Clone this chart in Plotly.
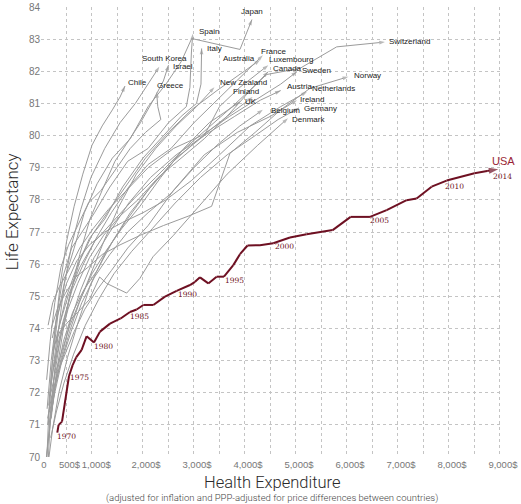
import plotly.graph_objects as go

# ---- data ----
usa_years = list(range(1970, 2015))
usa_spend = [320, 345, 412, 471, 510, 549, 621, 690, 797, 895,
             1039, 1157, 1353, 1562, 1745, 1876, 2007, 2203, 2431, 2660,
             2922, 3020, 3118, 3281, 3444, 3588, 3771, 3902, 4050, 4294,
             4555, 4882, 5209, 5719, 6072, 6451, 6778, 7170, 7366, 7660,
             7955, 8281, 8500, 8750, 8967]
usa_life = [70.76, 71.0, 71.1, 71.77, 72.2, 72.52, 72.86, 73.1, 73.33, 73.76,
            73.56, 73.9, 74.15, 74.31, 74.51, 74.59, 74.73, 74.73, 74.99, 75.17,
            75.35, 75.45, 75.59, 75.4, 75.61, 75.61, 75.97, 76.31, 76.58, 76.59,
            76.65, 76.83, 76.93, 77.06, 77.47, 77.47, 77.68, 77.99, 78.04, 78.41,
            78.6, 78.74, 78.83, 78.9, 78.95]
usa_label_years = [1970, 1975, 1980, 1985, 1990, 1995, 2000, 2005, 2010, 2014]

countries = ["Japan", "Spain", "Italy", "South Korea", "Israel", "Chile", "Greece",
             "Australia", "France", "Luxembourg", "Canada", "Sweden", "Switzerland",
             "Norway", "Austria", "Netherlands", "Ireland", "Germany", "Belgium",
             "Denmark", "New Zealand", "Finland", "UK"]

spend = {
    "Japan": [150, 220, 330, 480, 650, 850, 1100, 1400, 1750, 2100, 2450, 2750, 2955, 3902, 4137],
    "Spain": [120, 200, 300, 430, 600, 800, 1050, 1350, 1700, 2100, 2500, 2850, 2920, 2950, 2975],
    "Italy": [130, 210, 320, 480, 700, 950, 1250, 1600, 2000, 2400, 2750, 3050, 3137, 3150],
    "South Korea": [120, 170, 250, 340, 450, 600, 780, 980, 1250, 1550, 1850, 2100, 2320],
    "Israel": [200, 300, 430, 580, 760, 960, 1200, 1450, 1700, 1950, 2200, 2400, 2500],
    "Chile": [90, 140, 200, 280, 380, 500, 650, 820, 1000, 1200, 1400, 1550, 1647],
    "Greece": [110, 180, 270, 390, 540, 720, 930, 1180, 1450, 1750, 2050, 2350, 2290, 2268],
    "Australia": [160, 260, 390, 560, 760, 1000, 1300, 1650, 2050, 2500, 2950, 3450, 3900, 4294],
    "France": [180, 290, 430, 610, 830, 1080, 1380, 1720, 2100, 2550, 3000, 3450, 3900, 4350],
    "Luxembourg": [140, 230, 350, 520, 730, 980, 1280, 1650, 2100, 2650, 3200, 3500, 3900, 4457],
    "Canada": [260, 380, 530, 720, 950, 1230, 1550, 1900, 2300, 2750, 3200, 3650, 4100, 4457],
    "Sweden": [140, 230, 360, 540, 760, 1020, 1320, 1680, 2100, 2600, 3150, 3700, 4300, 4700, 5020],
    "Switzerland": [230, 360, 530, 760, 1050, 1400, 1800, 2250, 2750, 3250, 3750, 4425, 5078, 5798, 6745],
    "Norway": [200, 320, 480, 680, 920, 1200, 1550, 1950, 2400, 2900, 3346, 3706, 4200, 4700, 5274, 6026],
    "Austria": [100, 170, 270, 400, 570, 780, 1040, 1350, 1720, 2150, 2650, 3200, 3800, 4300, 4700],
    "Netherlands": [220, 340, 500, 700, 950, 1250, 1600, 2000, 2450, 2950, 3500, 4100, 4700, 5216],
    "Ireland": [130, 210, 320, 470, 650, 860, 1100, 1380, 1700, 2100, 2600, 3200, 3850, 4500, 5020],
    "Germany": [190, 300, 450, 640, 870, 1130, 1430, 1780, 2180, 2630, 3130, 3650, 4200, 4650, 5059],
    "Belgium": [170, 270, 410, 590, 800, 1050, 1350, 1700, 2100, 2550, 3000, 3450, 3900, 4350],
    "Denmark": [240, 370, 530, 720, 950, 1150, 1288, 1680, 1941, 2196, 2600, 3100, 3650, 4250, 4843],
    "New Zealand": [170, 270, 400, 560, 750, 970, 1230, 1530, 1870, 2250, 2650, 3050, 3400],
    "Finland": [110, 190, 300, 440, 620, 840, 1100, 1400, 1750, 2150, 2600, 3100, 3650, 4150],
    "UK": [180, 280, 410, 570, 770, 1000, 1270, 1580, 1940, 2350, 2800, 3300, 3902],
}

life = {
    "Japan": [71.6, 72.9, 74.4, 75.6, 76.5, 77.6, 78.5, 79.3, 79.9, 80.9, 81.6, 82.3, 83.02, 82.68, 83.61],
    "Spain": [71.5, 73.0, 74.3, 75.6, 76.5, 77.0, 77.6, 78.4, 79.2, 79.6, 80.4, 80.9, 81.5, 82.6, 83.17],
    "Italy": [71.0, 72.4, 73.8, 74.9, 75.9, 76.8, 77.4, 78.4, 79.3, 80.0, 80.6, 81.0, 81.6, 82.71],
    "South Korea": [69.2, 70.8, 72.4, 73.9, 75.3, 76.6, 77.7, 78.7, 79.6, 80.4, 81.0, 81.6, 82.14],
    "Israel": [71.2, 72.6, 73.9, 75.1, 76.3, 77.4, 78.3, 79.2, 79.8, 80.4, 81.1, 81.7, 82.19],
    "Chile": [69.0, 70.9, 72.5, 74.0, 75.4, 76.7, 77.8, 78.8, 79.7, 80.3, 80.8, 81.2, 81.54],
    "Greece": [72.4, 73.6, 74.8, 75.9, 76.6, 77.2, 77.9, 78.3, 78.9, 79.6, 80.1, 80.5, 80.9, 81.36],
    "Australia": [71.0, 72.5, 73.8, 75.0, 76.1, 76.9, 77.6, 78.4, 79.3, 80.1, 80.8, 81.4, 81.9, 82.35],
    "France": [72.1, 73.2, 74.2, 75.2, 76.0, 76.8, 77.6, 78.4, 79.1, 79.6, 80.4, 81.1, 81.8, 82.5],
    "Luxembourg": [69.8, 70.9, 72.0, 73.1, 74.2, 75.4, 76.4, 77.3, 78.3, 79.3, 80.0, 80.9, 81.5, 82.19],
    "Canada": [72.8, 73.7, 74.6, 75.4, 76.2, 76.9, 77.5, 78.0, 78.7, 79.3, 79.9, 80.6, 81.4, 81.99],
    "Sweden": [74.1, 74.8, 75.3, 75.8, 76.5, 77.1, 77.7, 78.3, 79.0, 79.6, 80.0, 80.6, 81.2, 81.6, 81.99],
    "Switzerland": [73.2, 74.1, 75.0, 75.9, 76.7, 77.3, 78.0, 78.7, 79.5, 80.2, 80.9, 81.9, 82.09, 82.76, 82.91],
    "Norway": [74.0, 74.6, 75.1, 75.6, 75.9, 76.3, 76.6, 76.9, 77.2, 77.5, 77.8, 79.45, 80.1, 80.8, 81.47, 81.83],
    "Austria": [69.9, 71.0, 72.1, 73.1, 74.2, 75.2, 76.2, 77.0, 77.9, 78.7, 79.4, 80.0, 80.6, 81.1, 81.4],
    "Netherlands": [73.7, 74.5, 75.4, 76.1, 76.6, 77.0, 77.3, 77.6, 78.0, 78.6, 79.4, 80.3, 80.9, 81.36],
    "Ireland": [71.2, 71.9, 72.6, 73.2, 73.9, 74.6, 75.2, 75.8, 76.5, 77.2, 78.3, 79.4, 80.1, 80.6, 81.1],
    "Germany": [70.6, 71.4, 72.3, 73.2, 74.1, 74.9, 75.7, 76.4, 77.1, 77.9, 78.7, 79.4, 80.0, 80.5, 80.86],
    "Belgium": [71.1, 72.0, 73.0, 73.9, 74.8, 75.6, 76.3, 77.0, 77.6, 78.2, 79.0, 79.7, 80.3, 80.8],
    "Denmark": [73.4, 73.9, 74.2, 74.5, 74.9, 75.6, 75.4, 75.1, 75.56, 76.23, 76.9, 77.8, 78.8, 79.7, 80.54],
    "New Zealand": [71.4, 72.2, 73.0, 73.9, 74.8, 75.7, 76.7, 77.8, 78.8, 79.6, 80.3, 80.9, 81.5],
    "Finland": [70.0, 71.2, 72.5, 73.6, 74.5, 75.2, 75.8, 76.7, 77.6, 78.4, 79.2, 79.9, 80.6, 81.2],
    "UK": [71.9, 72.6, 73.3, 74.1, 74.9, 75.7, 76.4, 77.1, 77.8, 78.7, 79.6, 80.4, 81.05],
}

x_tickvals = [0, 500, 1000, 2000, 3000, 4000, 5000, 6000, 7000, 8000, 9000]
x_ticktext = ["0", "500$", "\u00a01,000$", "2,000$", "3,000$", "4,000$", "5,000$",
              "6,000$", "7,000$", "8,000$", "9,000$"]
y_tickvals = list(range(70, 85))

# label placement next to each arrow tip: (xanchor, dx, dy) in screen pixels, dy down
label_pos = {
    "Japan": ("center", 0, -8), "Spain": ("left", 4, -2), "Italy": ("left", 3, 0),
    "South Korea": ("center", 5, -8), "Israel": ("left", 3, 1), "Chile": ("left", 1, -4),
    "Greece": ("left", -2, -6), "Australia": ("right", -3, -2), "France": ("left", -4, -4),
    "Luxembourg": ("left", -1, -6), "Canada": ("left", 3, -3), "Sweden": ("left", 3, -1),
    "Switzerland": ("left", 2, -1), "Norway": ("left", 4, -1), "Austria": ("left", 4, -4),
    "Netherlands": ("left", 3, -3), "Ireland": ("left", 1, -1), "Germany": ("left", 3, 1),
    "Belgium": ("left", 6, 1), "Denmark": ("left", 2, 1), "New Zealand": ("left", 4, -5),
    "Finland": ("center", -7, -6), "UK": ("left", 3, 0),
}
year_pos = {1970: (9, 4), 1975: (10, 1), 1980: (10, 4), 1985: (3, 7), 1990: (-3, 9),
            1995: (11, 4), 2000: (11, 3), 2005: (10, 4), 2010: (8, 6), 2014: (4, 7)}

gray = "#9b9b9b"
usa_color = "#6e1022"

fig = go.Figure()

for c in countries:
    n = len(spend[c])
    fig.add_trace(go.Scatter(
        x=spend[c], y=life[c], mode="lines+markers",
        line=dict(color=gray, width=1),
        marker=dict(symbol="arrow", angleref="previous", color=gray,
                    size=[0] * (n - 1) + [6], line=dict(width=0)),
        hoverinfo="skip", showlegend=False, cliponaxis=False,
    ))
    xa, dx, dy = label_pos[c]
    fig.add_annotation(
        x=spend[c][-1], y=life[c][-1], text=c, showarrow=False,
        xanchor=xa, yanchor="middle", xshift=dx, yshift=-dy,
        font=dict(family="Liberation Sans", size=8, color="#1a1a1a"),
    )

n = len(usa_spend)
fig.add_trace(go.Scatter(
    x=usa_spend, y=usa_life, mode="lines+markers",
    line=dict(color=usa_color, width=2),
    marker=dict(symbol="arrow", angleref="previous", color=usa_color,
                size=[0] * (n - 1) + [10], line=dict(width=0)),
    hoverinfo="skip", showlegend=False, cliponaxis=False,
))

for yr in usa_label_years:
    i = usa_years.index(yr)
    dx, dy = year_pos[yr]
    fig.add_annotation(
        x=usa_spend[i], y=usa_life[i], text=str(yr), showarrow=False,
        xshift=dx, yshift=-dy,
        font=dict(family="DejaVu Serif", size=7.5, color=usa_color),
    )
fig.add_annotation(
    x=usa_spend[-1], y=usa_life[-1], text="USA", showarrow=False,
    xshift=5, yshift=8,
    font=dict(family="Liberation Sans", size=11, color="#9a1f35"),
)

# axis titles
title_font = dict(family="Roboto", size=16.5, color="#2a2a2a", weight=300)
fig.add_annotation(
    xref="paper", yref="paper", x=0, y=0.544, text="Life Expectancy",
    textangle=-90, showarrow=False, xanchor="center", yanchor="middle",
    xshift=-29, font=dict(family="Roboto", size=17, color="#2a2a2a", weight=300),
)
fig.add_annotation(
    xref="paper", yref="paper", x=0.5, y=0, text="Health Expenditure",
    showarrow=False, xanchor="center", yanchor="middle", yshift=-25,
    font=title_font,
)
fig.add_annotation(
    xref="paper", yref="paper", x=0.5, y=0,
    text="(adjusted for inflation and PPP-adjusted for price differences between countries)",
    showarrow=False, xanchor="center", yanchor="middle", yshift=-41,
    font=dict(family="Roboto", size=9.5, color="#444444", weight=300),
)

grid = dict(showgrid=True, gridcolor="#c4c4c4", gridwidth=1, griddash="dot",
            zeroline=False, showline=False, ticks="")
fig.update_xaxes(
    range=[0, 9060], tickvals=x_tickvals, ticktext=x_ticktext, tickangle=0,
    ticklabelshift=3,
    tickfont=dict(family="Liberation Sans", size=9.5, color="#777777"),
    minor=dict(tick0=0, dtick=500, showgrid=True, gridcolor="#c4c4c4",
               griddash="dot", gridwidth=1, ticks=""),
    **grid,
)
fig.update_yaxes(
    range=[70, 84], tickvals=y_tickvals,
    tickfont=dict(family="Liberation Sans", size=10, color="#777777"),
    **grid,
)
fig.update_layout(
    width=521, height=504,
    margin=dict(l=41, r=18, t=7, b=47, autoexpand=False),
    plot_bgcolor="white", paper_bgcolor="white",
)

# the page's default body margin would push the 521x504 figure off the window
fig.write_html(
    "out.html",
    config={"displayModeBar": False},
    post_script="document.body.style.margin='0';document.body.style.overflow='hidden';",
)
